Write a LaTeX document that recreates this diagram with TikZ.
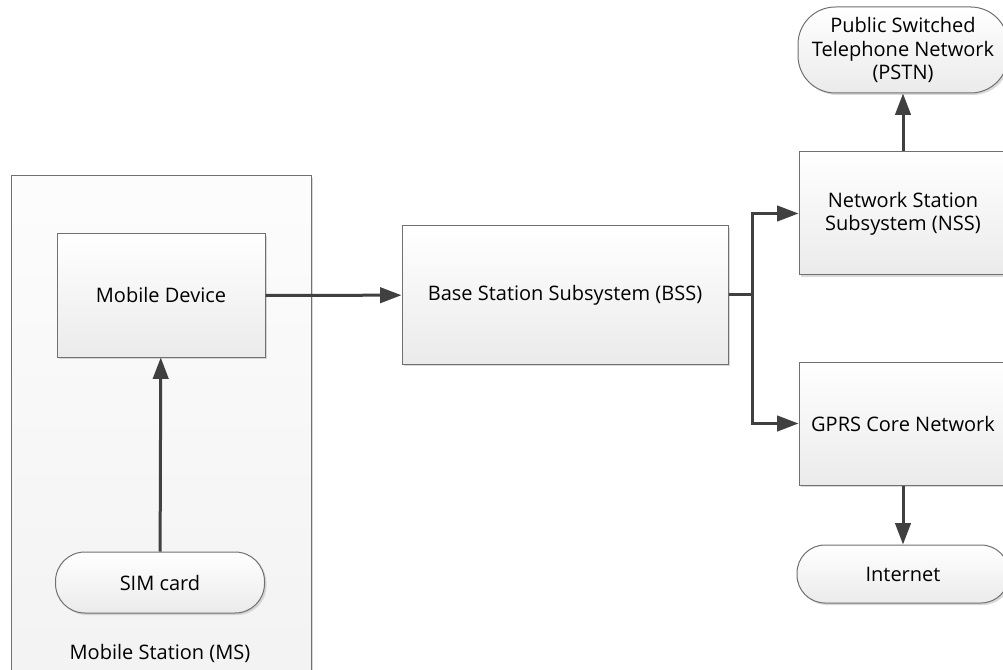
\documentclass[tikz,border=0pt]{standalone}
\usepackage{fontspec}
\setmainfont{Open Sans}
\usetikzlibrary{arrows.meta,shadows}
\definecolor{boxline}{HTML}{707070}
\definecolor{arrowgray}{HTML}{404040}
\tikzset{
  blk/.style={rectangle, draw=boxline, line width=0.75pt, inner sep=0pt, align=center,
    top color=white, bottom color=black!8, font=\fontsize{15}{17.5}\selectfont,
    drop shadow={shadow xshift=1.5pt, shadow yshift=-1.5pt, fill=black!25, opacity=0.6}},
  term/.style={blk, rounded corners=#1},
  arr/.style={draw=arrowgray, line width=2.25pt, -{Triangle[length=16pt, width=11.5pt]}}
}
\begin{document}
\begin{tikzpicture}[x=0.75pt, y=-0.75pt]
\useasboundingbox (0,0) rectangle (1003,670);
% mobile station
\node[blk, top color=black!1, bottom color=black!5, minimum width=225pt, minimum height=385.5pt] (ms) at (161,433){};
\node[font=\fontsize{15}{17.5}\selectfont] (mslabel) at (160,653){Mobile Station (MS)};
\node[blk, minimum width=156pt, minimum height=92.25pt] (dev) at (161,295.5){Mobile Device};
\node[term=22pt, minimum width=156.75pt, minimum height=45.75pt] (sim) at (160,582.5){SIM card};
% network side
\node[blk, minimum width=244.5pt, minimum height=103.5pt] (bss) at (565,295){Base Station Subsystem (BSS)};
\node[blk, minimum width=156pt, minimum height=92.25pt] (nss) at (903,213.5){Network Station\\Subsystem (NSS)};
\node[blk, minimum width=156pt, minimum height=92.25pt] (gprs) at (903,423.5){GPRS Core Network};
\node[term=28pt, minimum width=157.5pt, minimum height=64.5pt] (pstn) at (903,50){Public Switched\\Telephone Network\\(PSTN)};
\node[term=21pt, minimum width=159pt, minimum height=43.5pt] (inet) at (903,574){Internet};
\draw[arr](sim) -- (dev);
\draw[arr](dev) -- (bss);
\draw[draw=arrowgray, line width=2.25pt](bss.east) -- ++(24,0) coordinate (split);
\draw[arr](split) |- (nss.west);
\draw[arr](split) |- (gprs.west);
\draw[arr](nss) -- (pstn);
\draw[arr](gprs) -- (inet);
\end{tikzpicture}
\end{document}
